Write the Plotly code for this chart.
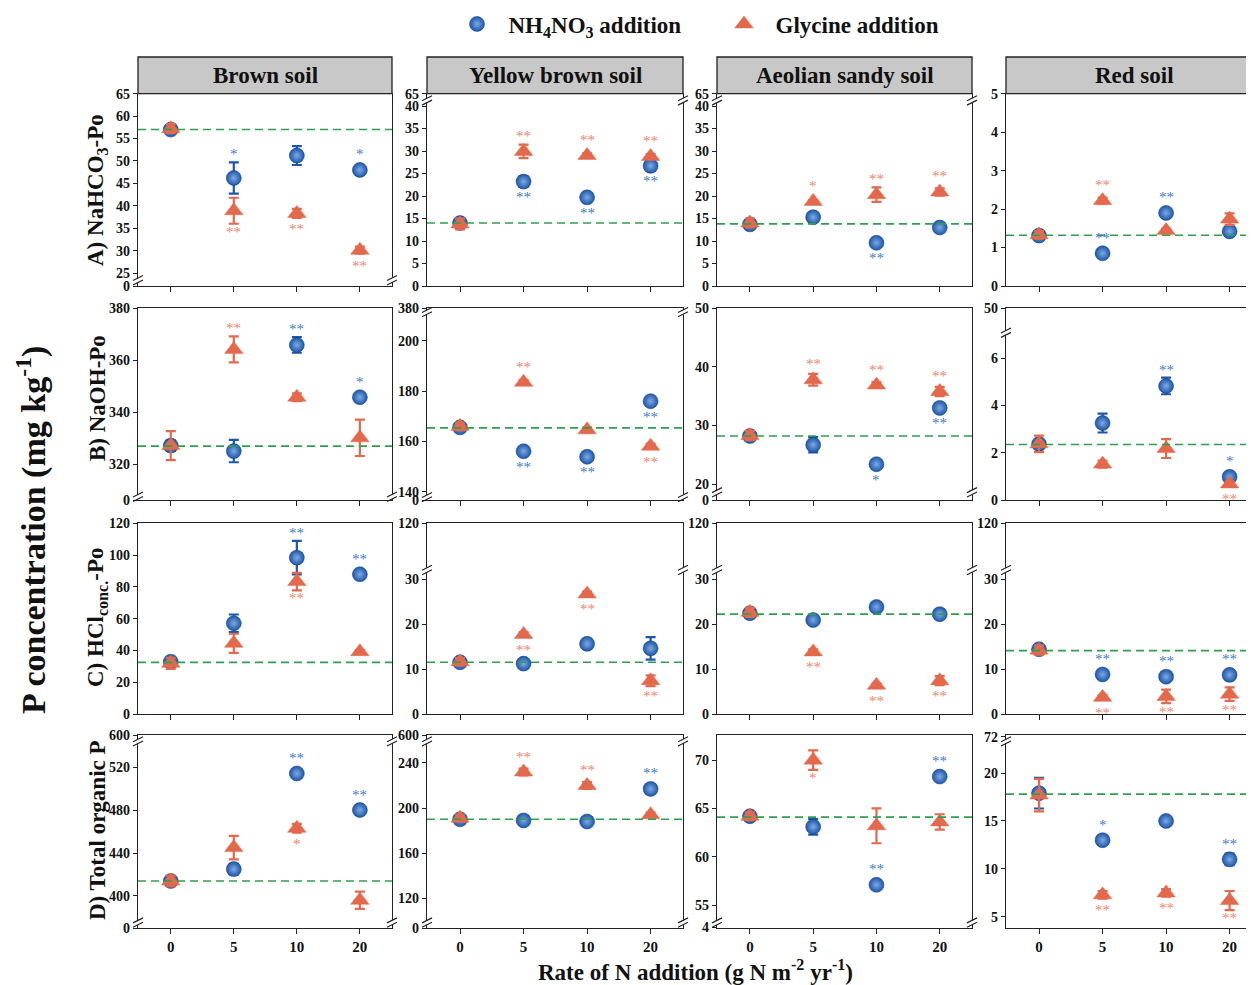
import plotly.graph_objects as go

W, H = 1254, 985
SERIF = "Liberation Serif"

rates = ["0", "5", "10", "20"]
soils = ["Brown soil", "Yellow brown soil", "Aeolian sandy soil", "Red soil"]
fraction_titles = ["A) NaHCO<sub>3</sub>-Po", "B) NaOH-Po",
                   "C) HCl<sub>conc.</sub>-Po", "D) Total organic P"]

# ---- A) NaHCO3-Po (rows: soils; cols: rates) ----
nh_A_mean = [[57.0, 46.2, 51.2, 48.0], [14.0, 23.2, 19.7, 26.7], [13.7, 15.3, 9.6, 13.0], [1.31, 0.85, 1.90, 1.42]]
nh_A_err = [[0.8, 3.5, 2.1, 0.7], [0.8, 1.2, 0.5, 0.7], [0.8, 0.6, 0.4, 0.5], [0.08, 0.05, 0.08, 0.05]]
gly_A_mean = [[57.2, 38.9, 38.3, 30.1], [13.8, 29.9, 29.0, 28.8], [14.0, 18.8, 20.3, 20.9], [1.33, 2.22, 1.44, 1.74]]
gly_A_err = [[1.0, 2.9, 1.0, 0.8], [1.2, 1.5, 0.5, 0.5], [1.0, 0.3, 1.6, 0.8], [0.1, 0.08, 0.05, 0.15]]
ctrl_A = [57.0, 14.0, 13.8, 1.32]
sig_nh_A = [["", "^*", "", "^*"], ["", "v**", "v**", "v**"], ["", "", "v**", ""], ["", "^**", "^**", ""]]
sig_gly_A = [["", "v**", "v**", "v**"], ["", "^**", "^**", "^**"], ["", "^*", "^**", "^**"], ["", "^**", "", ""]]

# ---- B) NaOH-Po ----
nh_B_mean = [[327.2, 325.1, 365.9, 345.8], [165.6, 156.1, 153.9, 176.0], [28.2, 26.7, 23.4, 33.0], [2.37, 3.26, 4.83, 0.98]]
nh_B_err = [[2.0, 4.3, 3.0, 1.0], [1.0, 1.0, 1.0, 1.0], [0.6, 1.3, 0.4, 0.5], [0.15, 0.4, 0.35, 0.1]]
gly_B_mean = [[327.2, 364.2, 345.8, 330.2], [166.0, 183.5, 164.6, 158.1], [28.3, 37.8, 36.9, 35.8], [2.38, 1.52, 2.18, 0.68]]
gly_B_err = [[5.6, 5.0, 1.5, 7.0], [1.5, 1.0, 1.0, 1.0], [0.8, 1.0, 0.5, 0.8], [0.35, 0.15, 0.4, 0.1]]
ctrl_B = [327.0, 165.4, 28.2, 2.35]
sig_nh_B = [["", "", "^**", "^*"], ["", "v**", "v**", "v**"], ["", "", "v*", "v**"], ["", "", "^**", "^*"]]
sig_gly_B = [["", "^**", "", ""], ["", "^**", "", "v**"], ["", "^**", "^**", "^**"], ["", "", "", "v**"]]

# ---- C) HCl conc.-Po ----
nh_C_mean = [[32.9, 57.1, 98.4, 87.9], [11.5, 11.2, 15.6, 14.6], [22.4, 20.9, 23.8, 22.2], [14.4, 8.8, 8.3, 8.7]]
nh_C_err = [[3.0, 5.5, 10.5, 1.0], [0.8, 0.6, 0.6, 2.5], [0.6, 0.6, 0.5, 0.5], [0.8, 0.6, 0.6, 0.6]]
gly_C_mean = [[31.9, 44.5, 83.3, 39.2], [11.6, 17.7, 26.7, 7.4], [22.6, 13.8, 6.4, 7.4], [14.2, 3.7, 3.9, 4.4]]
gly_C_err = [[3.5, 6.0, 5.5, 1.0], [0.8, 0.5, 0.5, 1.2], [1.0, 0.6, 0.4, 1.0], [1.0, 0.5, 1.5, 1.5]]
ctrl_C = [32.5, 11.5, 22.2, 14.1]
sig_nh_C = [["", "", "^**", "^**"], ["", "", "", ""], ["", "", "", ""], ["", "^**", "^**", "^**"]]
sig_gly_C = [["", "", "v**", ""], ["", "v**", "v**", "v**"], ["", "v**", "v**", "v**"], ["", "v**", "v**", "v**"]]

# ---- D) Total organic P ----
nh_D_mean = [[414, 425, 514, 480], [190, 189, 188, 217], [64.2, 63.1, 57.1, 68.3], [17.9, 13.0, 15.0, 11.0]]
nh_D_err = [[3, 5, 3, 3], [2, 2, 2, 3], [0.3, 0.8, 0.3, 0.3], [1.6, 0.4, 0.3, 0.6]]
gly_D_mean = [[414, 445, 463, 396], [191, 232, 220, 194], [64.2, 70.0, 63.2, 63.6], [17.7, 7.3, 7.5, 6.7]]
gly_D_err = [[5, 11, 4, 8], [3, 3, 3, 2], [0.4, 1.0, 1.8, 0.8], [1.7, 0.4, 0.4, 1.0]]
ctrl_D = [414, 190, 64.1, 17.8]
sig_nh_D = [["", "", "^**", "^**"], ["", "", "", "^**"], ["", "", "^**", "^**"], ["", "^*", "", "^**"]]
sig_gly_D = [["", "", "v*", ""], ["", "^**", "^**", ""], ["", "v*", "", ""], ["", "v**", "v**", "v**"]]

# ---- y-axis tick labels (broken axes) ----
ticks_A = [[0, 25, 30, 35, 40, 45, 50, 55, 60, 65], [0, 5, 10, 15, 20, 25, 30, 35, 40, 65],
           [0, 5, 10, 15, 20, 25, 30, 35, 40, 65], [0, 1, 2, 3, 4, 5]]
ticks_B = [[0, 320, 340, 360, 380], [0, 140, 160, 180, 200, 380], [0, 20, 30, 40, 50], [0, 2, 4, 6, 50]]
ticks_C = [[0, 20, 40, 60, 80, 100, 120], [0, 10, 20, 30, 120], [0, 10, 20, 30, 120], [0, 10, 20, 30, 120]]
ticks_D = [[0, 400, 440, 480, 520, 600], [0, 120, 160, 200, 240, 600], [4, 55, 60, 65, 70], [5, 10, 15, 20, 72]]

nh_mean = [nh_A_mean, nh_B_mean, nh_C_mean, nh_D_mean]
nh_err = [nh_A_err, nh_B_err, nh_C_err, nh_D_err]
gly_mean = [gly_A_mean, gly_B_mean, gly_C_mean, gly_D_mean]
gly_err = [gly_A_err, gly_B_err, gly_C_err, gly_D_err]
ctrl = [ctrl_A, ctrl_B, ctrl_C, ctrl_D]
sig_nh = [sig_nh_A, sig_nh_B, sig_nh_C, sig_nh_D]
sig_gly = [sig_gly_A, sig_gly_B, sig_gly_C, sig_gly_D]
ticks = [ticks_A, ticks_B, ticks_C, ticks_D]

# ---- broken-axis scale segments: (data_lo, data_hi, axis_frac_lo, axis_frac_hi), break positions ----
seg_cfg = [
    [([(0, 1, 0, 0.016), (24, 65, 0.044, 1.0)], [0.03]),
     ([(0, 40.6, 0, 0.95), (64.6, 65, 0.98, 1.0)], [0.965]),
     ([(0, 40.6, 0, 0.95), (64.6, 65, 0.98, 1.0)], [0.965]),
     ([(0, 5, 0, 1)], [])],
    [([(0, 1, 0, 0.005), (308.5, 380, 0.03, 1.0)], [0.017]),
     ([(0, 1, 0, 0.005), (139, 209.5, 0.03, 0.955), (379.5, 380, 0.997, 1.0)], [0.015, 0.98]),
     ([(0, 0.5, 0, 0.01), (19.25, 50, 0.06, 1.0)], [0.04]),
     ([(0, 7, 0, 0.862), (48, 50, 0.885, 1.0)], [0.873])],
    [([(0, 120, 0, 1)], []),
     ([(0, 31.5, 0, 0.743), (110, 120, 0.767, 1.0)], [0.755]),
     ([(0, 31.5, 0, 0.743), (110, 120, 0.767, 1.0)], [0.755]),
     ([(0, 31.5, 0, 0.743), (110, 120, 0.767, 1.0)], [0.755])],
    [([(0, 1, 0, 0.01), (378.3, 540.8, 0.045, 0.95), (599, 600, 0.985, 1.0)], [0.028, 0.967]),
     ([(0, 1, 0, 0.01), (101.1, 256.3, 0.045, 0.95), (599, 600, 0.985, 1.0)], [0.028, 0.967]),
     ([(3.5, 4.5, 0, 0.01), (53.53, 72.6, 0.045, 1.0)], [0.028]),
     ([(3.84, 22.96, 0, 0.95), (71.8, 72.2, 0.98, 1.0)], [0.967])],
]


def T(v, segs):
    seg = segs[-1]
    for s in segs:
        if v <= s[1]:
            seg = s
            break
    d0, d1, f0, f1 = seg
    return f0 + (v - d0) * (f1 - f0) / (d1 - d0)


# target screen positions (px) of the panels
col_px = [(138, 392), (427, 683), (717, 972), (1006, 1262)]
row_px = [(93.7, 286), (308.3, 500), (523.3, 714), (735, 928)]
XRANGE = (-0.52, 3.51)

# screen px -> paper (compensates the page's body margin)
OX, OY = 8, 8


def px2x(p):
    return (p - OX) / W


def px2y(p):
    return 1 - (p - OY) / H


BLUE = "#1b57aa"
BLUE_STAR = "#3f7cc8"
ORANGE = "#e4694c"
ORANGE_STAR = "#f0846c"
GREEN = "#2e9e4f"
AX = "#222222"

fig = go.Figure()
layout = {}
annotations = []
shapes = []
xpos = list(range(len(rates)))

for r in range(4):
    for c in range(4):
        k = r * 4 + c + 1
        sfx = "" if k == 1 else str(k)
        segs, breaks = seg_cfg[r][c]
        x0p, x1p = col_px[c]
        ytp, ybp = row_px[r]
        hpx = ybp - ytp
        rad = 7.5 / hpx

        layout["xaxis" + sfx] = dict(
            domain=[px2x(x0p), min(1.0, px2x(x1p))], range=list(XRANGE), anchor="y" + sfx,
            tickvals=xpos, ticktext=rates, showticklabels=(r == 3),
            ticks="outside", ticklen=5, tickwidth=1.3, tickcolor=AX,
            showline=True, mirror=True, linecolor=AX, linewidth=1.3,
            showgrid=False, zeroline=False,
            tickfont=dict(family=SERIF, size=15, color="#111", weight="bold"))
        tv = ticks[r][c]
        layout["yaxis" + sfx] = dict(
            domain=[px2y(ybp), px2y(ytp)], range=[0, 1], anchor="x" + sfx,
            tickvals=[T(t, segs) for t in tv], ticktext=[str(t) for t in tv],
            ticks="outside", ticklen=4, tickwidth=1.3, tickcolor=AX,
            showline=True, mirror=(c < 3), linecolor=AX, linewidth=1.3,
            showgrid=False, zeroline=False,
            tickfont=dict(family=SERIF, size=14, color="#111", weight="bold"))

        for mean, err, sig, color, scolor, symbol, name, legend in [
            (nh_mean[r][c], nh_err[r][c], sig_nh[r][c], BLUE, BLUE_STAR, "circle",
             "&nbsp;&nbsp;NH<sub>4</sub>NO<sub>3</sub> addition", "nh"),
            (gly_mean[r][c], gly_err[r][c], sig_gly[r][c], ORANGE, ORANGE_STAR, "triangle-up",
             "&nbsp;&nbsp;Glycine addition", "gly")]:
            yv = [T(m, segs) for m in mean]
            up = [T(m + e, segs) - T(m, segs) for m, e in zip(mean, err)]
            dn = [T(m, segs) - T(m - e, segs) for m, e in zip(mean, err)]
            marker = dict(symbol=symbol, color=color, size=15 if symbol == "circle" else 16,
                          line=dict(width=0.5, color="#123f80" if symbol == "circle" else color))
            if symbol == "circle":
                marker["gradient"] = dict(type="radial", color="#7fa9e2")
            fig.add_trace(go.Scatter(
                x=xpos, y=yv, mode="markers", marker=marker, name=name,
                legendgroup=legend, showlegend=(k == 1), cliponaxis=False,
                error_y=dict(type="data", symmetric=False, array=up, arrayminus=dn,
                             color=color, thickness=2.2, width=5),
                xaxis="x" + sfx, yaxis="y" + sfx, hoverinfo="skip"))
            for i, s in enumerate(sig):
                if not s:
                    continue
                txt = s[1:]
                if s[0] == "^":
                    yy = max(yv[i] + up[i], yv[i] + rad)
                    shift = 8
                else:
                    yy = min(yv[i] - dn[i], yv[i] - rad)
                    shift = -8
                annotations.append(dict(
                    x=xpos[i], y=yy, xref="x" + sfx, yref="y" + sfx, text=txt,
                    showarrow=False, xanchor="center", yanchor="middle", yshift=shift,
                    font=dict(family=SERIF, size=15, color=scolor)))

        # control reference line
        shapes.append(dict(type="line", xref="x" + sfx + " domain", yref="y" + sfx,
                           x0=0, x1=1, y0=T(ctrl[r][c], segs), y1=T(ctrl[r][c], segs),
                           line=dict(color=GREEN, width=1.6, dash="8px,5px"), layer="above"))

        # break marks
        sides = [x0p] + ([x1p] if c < 3 else [])
        for f in breaks:
            yp = ybp - f * hpx
            for xs in sides:
                shapes.append(dict(type="rect", xref="paper", yref="paper",
                                   x0=px2x(xs - 2.5), x1=px2x(xs + 2.5),
                                   y0=px2y(yp + 2.2), y1=px2y(yp - 2.2),
                                   fillcolor="white", line=dict(width=0), layer="above"))
                for dy in (-2.2, 2.2):
                    shapes.append(dict(type="line", xref="paper", yref="paper",
                                       x0=px2x(xs - 5), y0=px2y(yp + dy + 2.5),
                                       x1=px2x(xs + 5), y1=px2y(yp + dy - 2.5),
                                       line=dict(color=AX, width=1.2), layer="above"))

# strip headers
for c in range(4):
    x0p, x1p = col_px[c]
    shapes.append(dict(type="rect", xref="paper", yref="paper",
                       x0=px2x(x0p), x1=px2x(x1p) if c < 3 else 1.005,
                       y0=px2y(93.7), y1=px2y(57),
                       fillcolor="#c8c8c8", line=dict(color=AX, width=1.3), layer="below"))
    cx = (x0p + x1p) / 2
    annotations.append(dict(x=px2x(cx), y=px2y(75.5), xref="paper", yref="paper",
                            xanchor="center", yanchor="middle",
                            text="<b>%s</b>" % soils[c], showarrow=False,
                            font=dict(family=SERIF, size=23, color="#111")))

# row titles
row_title_y = [190, 398, 618, 830]
for r in range(4):
    annotations.append(dict(x=px2x(97), y=px2y(row_title_y[r]), xref="paper", yref="paper",
                            xanchor="center", yanchor="middle",
                            text="<b>%s</b>" % fraction_titles[r], showarrow=False,
                            textangle=-90, font=dict(family=SERIF, size=23, color="#111")))

annotations.append(dict(x=px2x(31), y=px2y(530), xref="paper", yref="paper",
                        xanchor="center", yanchor="middle",
                        text="<b>P concentration (mg kg<sup>-1</sup>)</b>", showarrow=False,
                        textangle=-90, font=dict(family=SERIF, size=34, color="#111")))
annotations.append(dict(x=px2x(695), y=px2y(970), xref="paper", yref="paper",
                        xanchor="center", yanchor="middle",
                        text="<b>Rate of N addition (g N m<sup>-2</sup> yr<sup>-1</sup>)</b>",
                        showarrow=False, font=dict(family=SERIF, size=23, color="#111")))

fig.update_layout(**layout)
fig.update_layout(
    width=W, height=H, margin=dict(l=0, r=0, t=0, b=0, autoexpand=False),
    paper_bgcolor="white", plot_bgcolor="white",
    annotations=annotations, shapes=shapes,
    legend=dict(orientation="h", x=px2x(457), xanchor="left", y=px2y(24), yanchor="middle",
                entrywidth=222, entrywidthmode="pixels", bgcolor="rgba(0,0,0,0)",
                font=dict(family=SERIF, size=23, color="#111", weight="bold")),
)
fig.write_html("out.html")
